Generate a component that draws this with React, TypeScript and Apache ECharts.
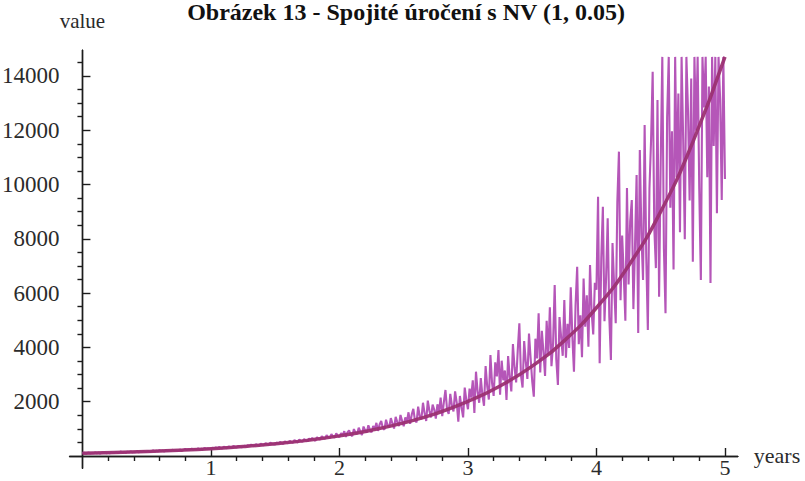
import React, { useEffect, useRef } from "react";
import * as echarts from "echarts";

const noisyValues: number[] = [
  // 0.00 - 0.24
  96, 118, 84, 109, 125, 93, 112, 101, 131, 98, 117, 89, 126, 108, 135, 102, 121, 97, 140, 113,
  // 0.25 - 0.49
  120, 151, 112, 139, 164, 126, 147, 118, 160, 137, 171, 129, 152, 141, 178, 133, 166, 145, 181, 150,
  // 0.50 - 0.74
  158, 190, 149, 176, 203, 168, 195, 172, 214, 181, 199, 166, 221, 188, 207, 179, 230, 196, 214, 190,
  // 0.75 - 0.99
  205, 238, 199, 226, 257, 219, 246, 231, 270, 224, 259, 241, 283, 236, 262, 248, 295, 254, 272, 261,
  // 1.00 - 1.24
  259, 301, 276, 318, 284, 331, 298, 272, 344, 310, 289, 352, 321, 305, 368, 330, 312, 371, 340, 326,
  // 1.25 - 1.49
  335, 382, 347, 404, 366, 421, 389, 359, 437, 402, 380, 455, 414, 397, 472, 431, 405, 489, 446, 428,
  // 1.50 - 1.74
  420, 497, 452, 518, 471, 439, 540, 493, 468, 561, 510, 485, 586, 527, 498, 604, 549, 520, 628, 566,
  // 1.75 - 1.99
  540, 641, 588, 662, 601, 559, 697, 628, 610, 725, 664, 632, 768, 689, 655, 802, 718, 676, 831, 742,
  // 2.00 - 2.24
  690, 845, 760, 912, 705, 868, 945, 781, 732, 990, 856, 810, 1042, 902, 768, 1085, 938, 864, 1130, 975,
  // 2.25 - 2.49
  870, 1105, 985, 1220, 925, 1160, 1290, 1032, 968, 1335, 1118, 1060, 1395, 1190, 1012, 1440, 1250, 1105, 1510, 1298,
  // 2.50 - 2.74
  1095, 1420, 1260, 1610, 1180, 1525, 1735, 1310, 1240, 1820, 1455, 1350, 1960, 1580, 1290, 2040, 1665, 1420, 1890, 1710,
  // 2.75 - 2.99
  1380, 1905, 1620, 2150, 1470, 1980, 2430, 1710, 1550, 2290, 1860, 1640, 2380, 1975, 1264, 2210, 1790, 1420, 2520, 2060,
  // 3.00 - 3.24
  1720, 2480, 2150, 2790, 1584, 3105, 2380, 1960, 2870, 2240, 1850, 3310, 2560, 2080, 3720, 2690, 2210, 3450, 2930, 3904,
  // 3.25 - 3.49
  2260, 3510, 2790, 3150, 2063, 3680, 2920, 2380, 4120, 3260, 2710, 3890, 4887, 2980, 2520, 4230, 3470, 2840, 4510, 3620,
  // 3.50 - 3.74
  2760, 2185, 4320, 3590, 5256, 3080, 4610, 3840, 2950, 4980, 3720, 5480, 3310, 4150, 6298, 3560, 2615, 5120, 4390, 3690,
  // 3.75 - 3.99
  5746, 3620, 4870, 3980, 6210, 4390, 3105, 5560, 6973, 4120, 5180, 3640, 6540, 4760, 5920, 4026, 7035, 5310, 4480, 6380,
  // 4.00 - 4.24
  6120, 9551, 3414, 7280, 9183, 4960, 6550, 8754, 5120, 3536, 7840, 6290, 4890, 9360, 11210, 5740, 8120, 6680, 4980, 9870,
  // 4.25 - 4.49
  6320, 8640, 9429, 5410, 7720, 10350, 4530, 11270, 8170, 6480, 12191, 7340, 4641, 9850, 11620, 14155, 8430, 6920, 13112, 5868,
  // 4.50 - 4.74
  10820, 14700, 7630, 5256, 12480, 14700, 9140, 11960, 6870, 14700, 10270, 13350, 8240, 14700, 11650, 7980, 14700, 12730, 9410, 13900,
  // 4.75 - 4.99
  7157, 14700, 11980, 14700, 9860, 6482, 14700, 12840, 14700, 10270, 13610, 6372, 14700, 11420, 14700, 8940, 14700, 13150, 9429, 14700,
  // 5.00
  10200,
];

// Expected value curve
const meanYears: number[] = [0, 0.25, 0.5, 0.75, 1, 1.25, 1.5, 1.75, 2, 2.25, 2.5, 2.75, 3, 3.25, 3.5, 3.75, 4, 4.25, 4.5, 4.75, 5];
const meanValues: number[] = [100, 130, 165, 210, 270, 350, 450, 575, 740, 950, 1220, 1560, 2010, 2580, 3310, 4250, 5460, 7010, 9000, 11560, 14700];

// Tick positions and labels
const xMajorTicks: number[] = [1, 2, 3, 4, 5];
const xMinorTicks: number[] = [0.2, 0.4, 0.6, 0.8, 1.2, 1.4, 1.6, 1.8, 2.2, 2.4, 2.6, 2.8, 3.2, 3.4, 3.6, 3.8, 4.2, 4.4, 4.6, 4.8];
const yMajorTicks: number[] = [2000, 4000, 6000, 8000, 10000, 12000, 14000];
const yMinorTicks: number[] = [500, 1000, 1500, 2500, 3000, 3500, 4500, 5000, 5500, 6500, 7000, 7500, 8500, 9000, 9500, 10500, 11000, 11500, 12500, 13000, 13500, 14500];

const titleText = "Obrázek 13 - Spojité úročení s NV (1, 0.05)";
const xName = "years";
const yName = "value";

const SERIF = "Liberation Serif";
const INK = "#1c1c1c";
const LABEL = "#2b2b2b";

export default function App() {
  const ref = useRef<HTMLDivElement>(null);

  useEffect(() => {
    if (!ref.current) return;
    const chart = echarts.init(ref.current, null, { renderer: "svg" });
    const step = 5 / (noisyValues.length - 1);
    const noisyData = noisyValues.map((v, i) => [i * step, v]);
    const meanData = meanValues.map((v, i) => [meanYears[i], v]);

    const lineStyle = { color: INK, width: 1.4 };
    const plain = (v: number) => String(v);

    const option: any = {
      animation: false,
      backgroundColor: "#ffffff",
      graphic: [
        {
          type: "text",
          x: 406,
          y: 0,
          style: {
            text: titleText,
            fontFamily: SERIF,
            fontWeight: "bold",
            fontSize: 24,
            fill: "#111",
            align: "center",
            verticalAlign: "top",
          },
        },
      ],
      grid: {
        left: 69.6,
        top: 50.1,
        width: 668.2,
        height: 418.1,
        containLabel: false,
        outerBoundsMode: "none",
      },
      xAxis: [
        {
          type: "value",
          min: -0.1,
          max: 5.1,
          axisLine: { show: true, onZero: true, lineStyle },
          axisTick: { show: true, inside: true, length: 8, customValues: xMajorTicks, lineStyle },
          axisLabel: {
            show: true,
            customValues: xMajorTicks,
            formatter: plain,
            margin: -12,
            fontSize: 22,
            fontFamily: SERIF,
            color: LABEL,
          },
          splitLine: { show: false },
          name: xName,
          nameLocation: "end",
          nameGap: 16,
          nameTextStyle: { fontSize: 22, fontFamily: SERIF, color: LABEL },
        },
        {
          type: "value",
          min: -0.1,
          max: 5.1,
          axisLine: { show: true, onZero: true, lineStyle },
          axisTick: { show: true, inside: true, length: 5, customValues: xMinorTicks, lineStyle },
          axisLabel: { show: false },
          splitLine: { show: false },
        },
      ],
      yAxis: [
        {
          type: "value",
          min: -450,
          max: 14950,
          axisLine: { show: true, onZero: true, lineStyle },
          axisTick: { show: true, inside: true, length: 8, customValues: yMajorTicks, lineStyle },
          axisLabel: { show: true, customValues: yMajorTicks, formatter: plain, margin: 10, fontSize: 23, fontFamily: SERIF, color: LABEL },
          splitLine: { show: false },
          name: yName,
          nameLocation: "end",
          nameGap: 19,
          nameTextStyle: { fontSize: 21, fontFamily: SERIF, color: LABEL },
        },
        {
          type: "value",
          min: -450,
          max: 14950,
          axisLine: { show: true, onZero: true, lineStyle },
          axisTick: { show: true, inside: true, length: 5, customValues: yMinorTicks, lineStyle },
          axisLabel: { show: false },
          splitLine: { show: false },
        },
      ],
      series: [
        {
          type: "line",
          name: "path",
          xAxisIndex: 0,
          yAxisIndex: 0,
          data: noisyData,
          symbol: "none",
          showSymbol: false,
          lineStyle: { color: "#b556b8", width: 2.1 },
          z: 2,
        },
        {
          type: "line",
          name: "mean",
          xAxisIndex: 0,
          yAxisIndex: 0,
          data: meanData,
          smooth: true,
          symbol: "none",
          showSymbol: false,
          lineStyle: { color: "#9c3172", width: 3.5, opacity: 0.95 },
          z: 3,
        },
      ],
    };

    chart.setOption(option);
    return () => chart.dispose();
  }, []);

  return (
    <div
      ref={ref}
      style={{ position: "absolute", left: 0, top: 0, width: 805, height: 481, background: "#fff" }}
    />
  );
}
